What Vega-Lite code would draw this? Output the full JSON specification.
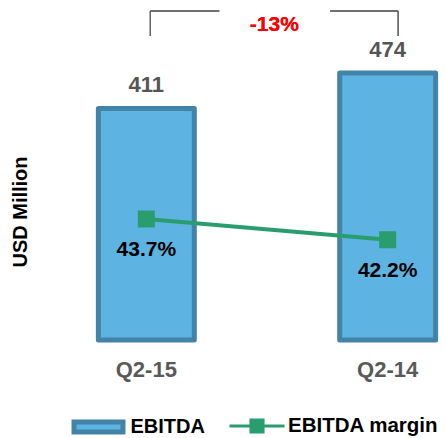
{
  "$schema": "https://vega.github.io/schema/vega-lite/v6.json",
  "width": 358,
  "height": 340,
  "autosize": {"type": "none"},
  "padding": {"left": 88, "top": 0, "right": 0, "bottom": 98},
  "config": {"view": {"stroke": null}, "font": "Liberation Sans"},
  "data": {"values": [
    {"quarter": "Q2-15", "ebitda": 411, "margin": 0.437},
    {"quarter": "Q2-14", "ebitda": 474, "margin": 0.422}
  ]},
  "encoding": {
    "x": {
      "field": "quarter", "type": "nominal", "sort": null,
      "scale": {"paddingInner": 0.6025, "paddingOuter": 0.043},
      "axis": {"title": null, "domain": false, "ticks": false, "tickSize": 0, "labelFontSize": 22, "labelFontWeight": "bold", "labelColor": "#595959", "labelPadding": 19, "labelAngle": 0}
    }
  },
  "layer": [
    {
      "layer": [
        {
          "mark": {"type": "bar", "stroke": "#4383A8", "strokeWidth": 5, "strokeJoin": "round"},
          "encoding": {
            "y": {
              "field": "ebitda", "type": "quantitative",
              "scale": {"domain": [0, 603.6], "nice": false, "zero": true},
              "axis": {"title": "USD Million", "domain": false, "ticks": false, "tickSize": 0, "labels": false, "grid": false, "titleFontSize": 20, "titleFontWeight": "bold", "titleColor": "#000000", "titlePadding": 58, "titleY": 211.5}
            },
            "fill": {
              "datum": "EBITDA", "type": "nominal",
              "scale": {"domain": ["EBITDA"], "range": ["#5DB3E2"]},
              "legend": {
                "title": null, "orient": "none", "legendX": -19.5, "legendY": 397,
                "labelFontSize": 20, "labelFontWeight": "bold", "labelColor": "#000000",
                "symbolSize": 3025, "labelOffset": 2,
                "symbolType": "M-0.89,-0.18H0.89V0.18H-0.89Z",
                "symbolStrokeColor": "#4383A8", "symbolStrokeWidth": 5, "symbolOpacity": 1,
                "encode": {"symbols": {"update": {
                  "stroke": {"value": "#4383A8"},
                  "strokeWidth": {"value": 5},
                  "shape": {"value": "M-0.89,-0.18H0.89V0.18H-0.89Z"},
                  "opacity": {"value": 1}
                }}}
              }
            }
          }
        },
        {
          "mark": {"type": "text", "baseline": "alphabetic", "dy": -16, "fontSize": 22, "fontWeight": "bold", "color": "#555555"},
          "encoding": {
            "y": {"field": "ebitda", "type": "quantitative"},
            "text": {"field": "ebitda", "type": "quantitative"}
          }
        },
        {
          "mark": {"type": "rule", "color": "#666666", "strokeWidth": 1.3, "xOffset": 4},
          "encoding": {"x": {"datum": "Q2-15"}, "y": {"datum": 539.7}, "y2": {"datum": 584.1}}
        },
        {
          "mark": {"type": "rule", "color": "#666666", "strokeWidth": 1.3, "xOffset": 4, "x2Offset": 73},
          "encoding": {"x": {"datum": "Q2-15"}, "x2": {"datum": "Q2-15"}, "y": {"datum": 584.1}}
        },
        {
          "mark": {"type": "rule", "color": "#666666", "strokeWidth": 1.3, "xOffset": -57.5, "x2Offset": 10.5},
          "encoding": {"x": {"datum": "Q2-14"}, "x2": {"datum": "Q2-14"}, "y": {"datum": 584.1}}
        },
        {
          "mark": {"type": "rule", "color": "#666666", "strokeWidth": 1.3, "xOffset": 10.5},
          "encoding": {"x": {"datum": "Q2-14"}, "y": {"datum": 539.7}, "y2": {"datum": 584.1}}
        },
        {
          "mark": {"type": "text", "baseline": "alphabetic", "dx": 128, "fontSize": 21, "fontWeight": "bold", "color": "#FF0000"},
          "encoding": {"x": {"datum": "Q2-15"}, "y": {"datum": 548.6}, "text": {"datum": "-13%"}}
        }
      ]
    },
    {
      "layer": [
        {
          "mark": {"type": "line", "strokeWidth": 4, "point": {"shape": "square", "size": 225, "filled": true, "opacity": 1, "color": "#2A9D6E"}},
          "encoding": {
            "y": {"field": "margin", "type": "quantitative", "scale": {"domain": [0.3493, 0.5957], "nice": false, "zero": false}, "axis": null},
            "stroke": {
              "datum": "EBITDA margin", "type": "nominal",
              "scale": {"domain": ["EBITDA margin"], "range": ["#2A9D6E"]},
              "legend": {
                "title": null, "orient": "none", "legendX": 140, "legendY": 397,
                "labelFontSize": 20.5, "labelFontWeight": "bold", "labelColor": "#000000",
                "symbolSize": 3025, "labelOffset": 2,
                "symbolType": "M-1,0H1M-0.22,-0.22H0.22V0.22H-0.22Z",
                "symbolFillColor": "#2A9D6E", "symbolStrokeWidth": 3, "symbolOpacity": 1,
                "encode": {"symbols": {"update": {
                  "fill": {"value": "#2A9D6E"},
                  "strokeWidth": {"value": 3},
                  "shape": {"value": "M-1,0H1M-0.22,-0.22H0.22V0.22H-0.22Z"},
                  "opacity": {"value": 1}
                }}}
              }
            }
          }
        },
        {
          "mark": {"type": "text", "baseline": "middle", "dy": 31, "fontSize": 21, "fontWeight": "bold", "color": "#000000"},
          "encoding": {
            "y": {"field": "margin", "type": "quantitative"},
            "text": {"field": "margin", "type": "quantitative", "format": ".1%"}
          }
        }
      ]
    }
  ],
  "resolve": {"scale": {"y": "independent"}}
}
